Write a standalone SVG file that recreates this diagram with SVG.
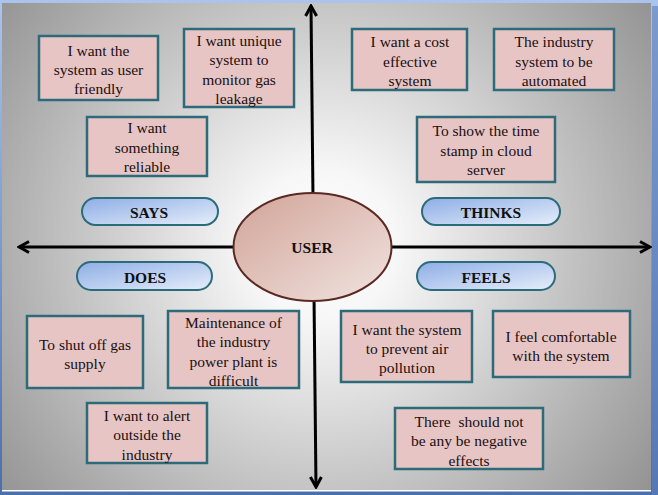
<svg xmlns="http://www.w3.org/2000/svg" width="658" height="495" viewBox="0 0 658 495">
<defs>
  <linearGradient id="outer" x1="0" y1="0" x2="0" y2="1">
    <stop offset="0" stop-color="#a9c5ee"/>
    <stop offset="1" stop-color="#4a6fae"/>
  </linearGradient>
  <radialGradient id="panel" gradientUnits="userSpaceOnUse" cx="322" cy="245" r="410">
    <stop offset="0" stop-color="#ffffff"/>
    <stop offset="0.18" stop-color="#f7f7f7"/>
    <stop offset="1" stop-color="#939393"/>
  </radialGradient>
  <linearGradient id="pill" x1="0" y1="0" x2="1" y2="1">
    <stop offset="0" stop-color="#8eaee6"/>
    <stop offset="1" stop-color="#e6eefa"/>
  </linearGradient>
  <linearGradient id="ell" x1="0" y1="0" x2="1" y2="1">
    <stop offset="0" stop-color="#d1a398"/>
    <stop offset="1" stop-color="#f1e4e0"/>
  </linearGradient>
  <marker id="arr" viewBox="0 0 14 14" refX="12" refY="7" markerWidth="14" markerHeight="14" orient="auto-start-reverse" markerUnits="userSpaceOnUse">
    <path d="M2,1.5 L12,7 L2,12.5" fill="none" stroke="#000" stroke-width="3" stroke-linejoin="miter"/>
  </marker>
  <style>
    .box{fill:#e7c5c5;stroke:#2c6b7a;stroke-width:2.5}
    .pl{fill:url(#pill);stroke:#2c6b7a;stroke-width:2}
    .t{font-size:15.5px;fill:#1a0f0f;text-anchor:middle}
    .b{font-size:15.5px;font-weight:bold;fill:#111;text-anchor:middle}
    .ax{stroke:#000;stroke-width:3;fill:none}
  </style>
</defs>
<rect x="0" y="0" width="658" height="495" fill="url(#outer)"/>
<rect x="652" y="6" width="6" height="489" fill="#5d7fba" opacity="0.6"/>
<rect x="2" y="3" width="649" height="487" fill="url(#panel)"/>
<rect x="2" y="490" width="649" height="1.5" fill="#ffffff"/>

<g id="connectors">
  <line class="ax" x1="311" y1="6" x2="316" y2="487" marker-start="url(#arr)" marker-end="url(#arr)"/>
  <line class="ax" x1="19" y1="247" x2="650" y2="247" marker-start="url(#arr)" marker-end="url(#arr)"/>
</g>

<g font-family="'Liberation Serif', Tinos, 'DejaVu Serif', serif">
<g id="user">
  <ellipse cx="312.5" cy="247" rx="79" ry="54" fill="url(#ell)" stroke="#5a2a22" stroke-width="2"/>
  <text class="b" x="312" y="252.5">USER</text>
</g>

<g id="says">
  <rect class="pl" x="82" y="198" width="136" height="27" rx="13.5"/>
  <text class="b" x="149" y="218">SAYS</text>
</g>
<g id="thinks">
  <rect class="pl" x="422" y="198" width="138" height="27" rx="13.5"/>
  <text class="b" x="491" y="218">THINKS</text>
</g>
<g id="does">
  <rect class="pl" x="77" y="262" width="135" height="28" rx="14"/>
  <text class="b" x="145" y="283">DOES</text>
</g>
<g id="feels">
  <rect class="pl" x="417" y="262" width="138" height="28" rx="14"/>
  <text class="b" x="486" y="283">FEELS</text>
</g>

<g id="says1">
  <rect class="box" x="39" y="36" width="119" height="64"/>
  <text class="t" x="98.5" y="55.5">I want the</text>
  <text class="t" x="98.5" y="74.5">system as user</text>
  <text class="t" x="98.5" y="94">friendly</text>
</g>
<g id="says2">
  <rect class="box" x="184" y="29" width="110" height="78"/>
  <text class="t" x="239" y="45.5">I want unique</text>
  <text class="t" x="239" y="65">system to</text>
  <text class="t" x="239" y="84.5">monitor gas</text>
  <text class="t" x="239" y="104">leakage</text>
</g>
<g id="says3">
  <rect class="box" x="87" y="117" width="120" height="59"/>
  <text class="t" x="147" y="133">I want</text>
  <text class="t" x="147" y="152.5">something</text>
  <text class="t" x="147" y="172">reliable</text>
</g>

<g id="thinks1">
  <rect class="box" x="352" y="29" width="115" height="61"/>
  <text class="t" x="410" y="47">I want a cost</text>
  <text class="t" x="410" y="66.5">effective</text>
  <text class="t" x="410" y="86">system</text>
</g>
<g id="thinks2">
  <rect class="box" x="494" y="29" width="120" height="61"/>
  <text class="t" x="554" y="47">The industry</text>
  <text class="t" x="554" y="66.5">system to be</text>
  <text class="t" x="554" y="86">automated</text>
</g>
<g id="thinks3">
  <rect class="box" x="417" y="117" width="138" height="65"/>
  <text class="t" x="486" y="136">To show the time</text>
  <text class="t" x="486" y="155.5">stamp in cloud</text>
  <text class="t" x="486" y="175">server</text>
</g>

<g id="does1">
  <rect class="box" x="27" y="316" width="116" height="72"/>
  <text class="t" x="85" y="349.5">To shut off gas</text>
  <text class="t" x="85" y="368.5">supply</text>
</g>
<g id="does2">
  <rect class="box" x="168" y="311" width="131" height="77"/>
  <text class="t" x="233.5" y="327.5">Maintenance of</text>
  <text class="t" x="233.5" y="347">the industry</text>
  <text class="t" x="233.5" y="366.5">power plant is</text>
  <text class="t" x="233.5" y="385.5">difficult</text>
</g>
<g id="does3">
  <rect class="box" x="87" y="403" width="120" height="60"/>
  <text class="t" x="147" y="421">I want to alert</text>
  <text class="t" x="147" y="440">outside the</text>
  <text class="t" x="147" y="459.5">industry</text>
</g>

<g id="feels1">
  <rect class="box" x="341" y="311" width="131" height="71"/>
  <text class="t" x="407" y="334.5">I want the system</text>
  <text class="t" x="407" y="353.5">to prevent  air</text>
  <text class="t" x="407" y="373">pollution</text>
</g>
<g id="feels2">
  <rect class="box" x="493" y="311" width="137" height="66"/>
  <text class="t" x="561" y="341.5">I feel comfortable</text>
  <text class="t" x="561" y="360.5">with the system</text>
</g>
<g id="feels3">
  <rect class="box" x="395" y="408" width="148" height="61"/>
  <text class="t" x="469" y="426.5" xml:space="preserve">There  should not</text>
  <text class="t" x="469" y="445.5">be any be negative</text>
  <text class="t" x="469" y="465.5">effects</text>
</g>
</g>
</svg>
